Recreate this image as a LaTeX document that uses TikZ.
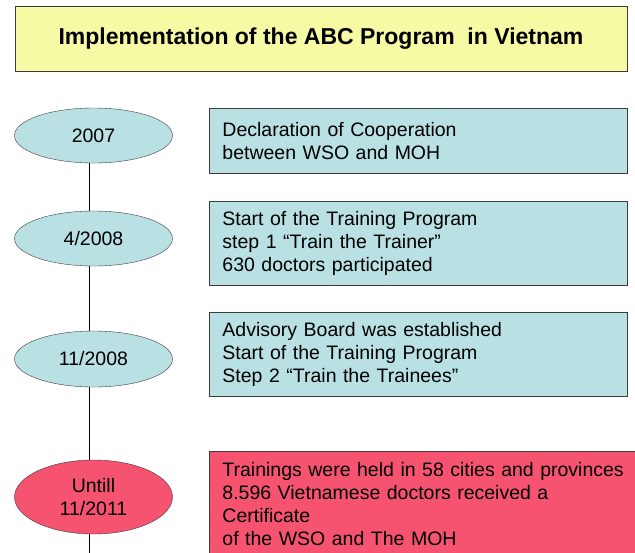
\documentclass[tikz,border=0pt]{standalone}
\usepackage{fontspec}
\setmainfont{Liberation Sans}
\usepackage{tikz}
\usetikzlibrary{shapes}

\definecolor{titleyellow}{RGB}{246,250,164}
\definecolor{stepblue}{RGB}{185,224,227}
\definecolor{stepred}{RGB}{245,83,111}
\definecolor{edgegray}{RGB}{60,60,60}

\begin{document}
\begin{tikzpicture}[x=1pt, y=1pt]
		\tikzstyle{box}=[rectangle, draw=edgegray, line width=0.9pt]
		\tikzstyle{date}=[ellipse, draw=edgegray, fill=stepblue, minimum width=158pt, minimum height=55pt, inner sep=0pt, align=center, font=\fontsize{19.5}{23}\selectfont]
		\tikzstyle{event}=[box, fill=stepblue, anchor=north west, text width=392pt, inner xsep=13pt, align=left, font=\fontsize{19.5}{23}\selectfont]

		\useasboundingbox (0,0) rectangle (635,-552);

		\node[box, fill=titleyellow, minimum width=612pt, minimum height=65pt, font=\fontsize{23}{27}\selectfont\bfseries] (title) at (321,-38.5) {
			Implementation of the ABC Program~ in Vietnam
		};

		% dates on the time line
		\node[date] (d2007) at (93.5,-135.5) {2007};
		\node[date] (d2008a) at (93.5,-238.5) {4/2008};
		\node[date, minimum height=56pt] (d2008b) at (93.5,-359) {11/2008};
		\node[date, fill=stepred, minimum height=74pt] (d2011) at (93.5,-497) {Untill\\11/2011};

		\coordinate (lineend) at (89,-560);

		% what happened
		\node[event, minimum height=65pt] (e2007) at (209,-108) {
			Declaration of Cooperation\\
			between WSO and MOH
		};

		\node[event, minimum height=84pt] (e2008a) at (209,-201) {
			Start of the Training Program\\
			step 1 “Train the Trainer”\\
			630 doctors participated
		};

		\node[event, minimum height=84pt] (e2008b) at (209,-312) {
			Advisory Board was established\\
			Start of the Training Program\\
			Step 2 “Train the Trainees”
		};

		\node[event, fill=stepred, text width=420pt, minimum height=105pt] (e2011) at (209,-451) {
			Trainings were held in 58 cities and provinces\\
			8.596 Vietnamese doctors received a\\
			Certificate\\
			of the WSO and The MOH
		};

		\draw[thin] ([xshift=-4.5pt]d2007.south) -- ([xshift=-4.5pt]d2008a.north);
		\draw[thin] ([xshift=-4.5pt]d2008a.south) -- ([xshift=-4.5pt]d2008b.north);
		\draw[thin] ([xshift=-4.5pt]d2008b.south) -- ([xshift=-4.5pt]d2011.north);
		\draw[thin] ([xshift=-4.5pt]d2011.south) -- (lineend);

	\end{tikzpicture}
\end{document}
